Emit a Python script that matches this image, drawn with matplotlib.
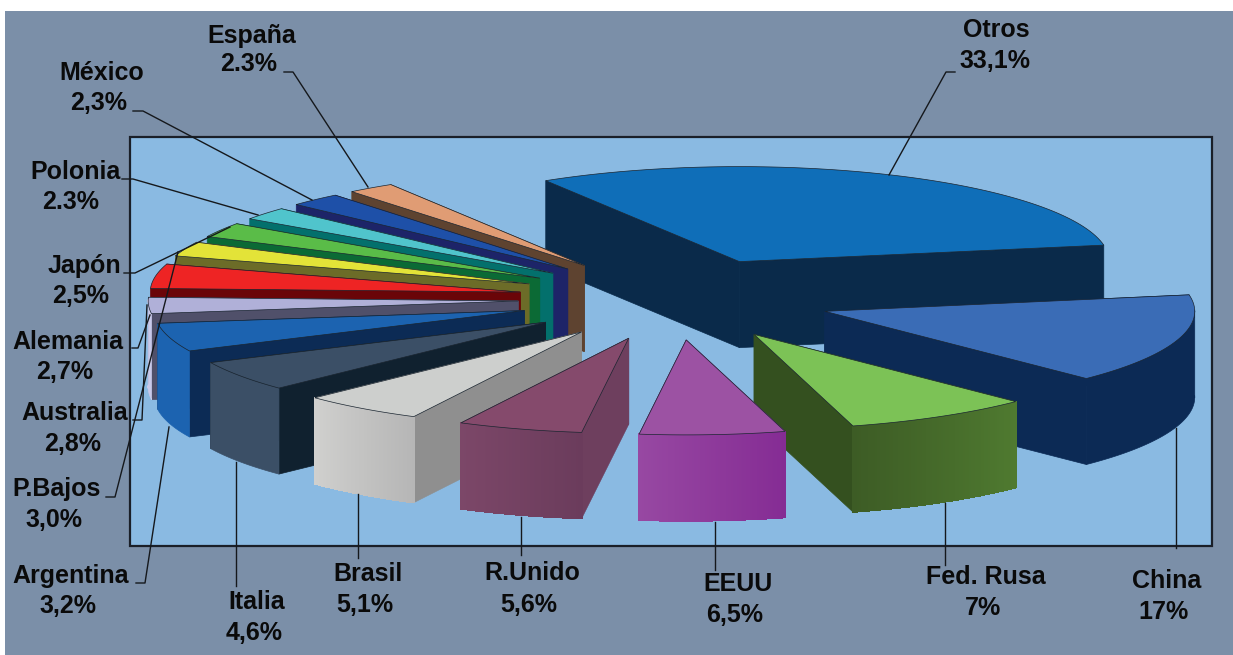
import numpy as np
import matplotlib
matplotlib.use("Agg")
import matplotlib.pyplot as plt
from matplotlib.colors import to_rgb
from matplotlib.patches import Polygon, Rectangle

plt.rcParams["font.family"] = ["Liberation Sans", "DejaVu Sans"]

# data, clockwise from China
names = ["China", "Fed. Rusa", "EEUU", "R.Unido", "Brasil", "Italia", "Argentina", "P.Bajos",
         "Australia", "Alemania", "Japón", "Polonia", "México", "España", "Otros"]
values = [17, 7, 6.5, 5.6, 5.1, 4.6, 3.2, 3.0, 2.8, 2.7, 2.5, 2.3, 2.3, 2.3, 33.1]
pct_labels = ["17%", "7%", "6,5%", "5,6%", "5,1%", "4,6%", "3,2%", "3,0%",
              "2,8%", "2,7%", "2,5%", "2.3%", "2,3%", "2.3%", "33,1%"]

# styles: top, radial side, wall left, wall right
slice_colors = [
    ("#3a6cb6", "#0c2a55", "#0c2a55", "#0c2a55"),
    ("#7cc256", "#34501f", "#3d5c25", "#4f7a30"),
    ("#9c52a3", "#7a3a85", "#9748a2", "#852c94"),
    ("#854a6c", "#6e3f5e", "#7c4768", "#6b3c5c"),
    ("#cdcfcd", "#8f8f8f", "#d0d0ce", "#b6b6b6"),
    ("#3b4f66", "#10212f", "#3b4f66", "#3b4f66"),
    ("#1c63b0", "#0c2b55", "#1c63b0", "#1c63b0"),
    ("#b0b0d8", "#50506a", "#c9c9ea", "#c9c9ea"),
    ("#ee2424", "#6a0508", "#8a1018", "#8a1018"),
    ("#e3e338", "#6c6c28", "#85852c", "#85852c"),
    ("#5abc48", "#0b6a35", "#0b6a35", "#0b6a35"),
    ("#50c4cc", "#03706c", "#03706c", "#03706c"),
    ("#1e50a8", "#1d2468", "#1d2468", "#1d2468"),
    ("#e09c74", "#5e4330", "#5e4330", "#5e4330"),
    ("#0f6eb8", "#0a2a4a", "#0a2a4a", "#0a2a4a"),
]

# label centres and leader paths, in picture pixels
name_pos = [(1167, 581), (986, 577), (738, 584), (532, 573), (368, 574), (257, 602), (71, 576), (57, 489),
            (75, 413), (68, 342), (84, 266), (75, 172), (102, 73), (252, 36), (996, 30)]
pct_pos = [(1164, 612), (983, 608), (735, 615), (529, 605), (365, 605), (254, 633), (68, 606), (54, 520),
           (73, 444), (65, 372), (81, 296), (71, 202), (99, 103), (249, 64), (995, 61)]
leaders = [
    [(1176, 548), (1176, 428)],
    [(945, 565), (945, 503)],
    [(715, 570), (715, 522)],
    [(521, 555), (521, 517)],
    [(358, 558), (358, 494)],
    [(236, 586), (236, 462)],
    [(136, 583), (145, 583), (169, 427)],
    [(106, 497), (115, 497), (178, 252)],
    [(133, 420), (142, 420), (147, 305)],
    [(132, 348), (138, 348), (150, 315)],
    [(124, 273), (135, 273), (230, 227)],
    [(122, 179), (133, 179), (258, 215)],
    [(133, 111), (143, 111), (312, 200)],
    [(284, 72), (293, 72), (368, 187)],
    [(955, 72), (946, 72), (889, 175)],
]

# pie projection
center = (675, 299)
rx, ry = 370, 95
explode_x, explode_y = 157, 41
depth = 86
start_angle = -10
# the 3D view squeezes some angles, degrees of shift against the running total
warp_at = [0, 61.2, 86.4, 130, 148.4, 165, 176.6, 187.4, 197.5, 207.2, 216.2, 224.5, 232.5, 240.8, 360]
warp_by = [0, -6.2, -1.9, -3, -2.2, 0, 6, 5, 10, 9, 9, 8.5, 8.5, 7.6, 0]


def view_angle(t):
    return t + start_angle + np.interp(t, warp_at, warp_by)


fig = plt.figure(figsize=(12.33, 6.55), dpi=100, facecolor="white")
ax = fig.add_axes([0, 0, 1, 1])
ax.set_xlim(0, 1233)
ax.set_ylim(655, 0)
ax.axis("off")

ax.add_patch(Rectangle((5, 11), 1228, 644, fc="#7b8fa8", ec="none", zorder=0))
ax.add_patch(Rectangle((130, 137), 1082, 409, fc="#8abae2", ec="#1a1f28", lw=1.6, zorder=1))

edges = np.concatenate([[0], np.cumsum(values)]) / np.sum(values) * 360
starts = view_angle(edges[:-1])
ends = view_angle(edges[1:])
mids = (starts + ends) / 2

for i in np.argsort(np.sin(np.radians(mids))):
    top, side, wall_a, wall_b = slice_colors[i]
    m = np.radians(mids[i])
    ax0 = center[0] + explode_x * np.cos(m)
    ay0 = center[1] + explode_y * np.sin(m)
    th = np.radians(np.linspace(starts[i], ends[i], 80))
    ox = ax0 + rx * np.cos(th)
    oy = ay0 + ry * np.sin(th)

    # radial faces
    for k in (0, -1):
        ax.add_patch(Polygon([(ax0, ay0), (ox[k], oy[k]), (ox[k], oy[k] + depth), (ax0, ay0 + depth)],
                             fc=side, ec=side, lw=0.5, zorder=2))

    # outer wall, front half only, left to right for the shading
    keep = np.where(np.sin(th) > -0.02)[0]
    if len(keep) > 1:
        idx = keep[np.argsort(ox[keep])]
        if wall_a == wall_b:
            ax.add_patch(Polygon(np.column_stack([np.r_[ox[idx], ox[idx][::-1]],
                                                  np.r_[oy[idx], oy[idx][::-1] + depth]]),
                                 fc=wall_a, ec=wall_a, lw=0.5, zorder=2))
        else:
            ca, cb = np.array(to_rgb(wall_a)), np.array(to_rgb(wall_b))
            for n in range(len(idx) - 1):
                a, b = idx[n], idx[n + 1]
                col = ca + (cb - ca) * n / (len(idx) - 1)
                ax.add_patch(Polygon([(ox[a], oy[a]), (ox[b], oy[b]), (ox[b], oy[b] + depth), (ox[a], oy[a] + depth)],
                                     fc=col, ec=col, lw=0.5, antialiased=False, zorder=2))

    # top face
    ax.add_patch(Polygon(np.column_stack([np.r_[ax0, ox], np.r_[ay0, oy]]),
                         fc=top, ec="#1a2530", lw=0.5, zorder=2))

for path in leaders:
    xs, ys = zip(*path)
    ax.plot(xs, ys, color="#15181c", lw=1.0, zorder=3)

for name, pct, np_, pp in zip(names, pct_labels, name_pos, pct_pos):
    ax.text(np_[0], np_[1], name, ha="center", va="center", fontsize=18, fontweight="bold",
            color="#0a0a0a", zorder=4)
    ax.text(pp[0], pp[1], pct, ha="center", va="center", fontsize=18, fontweight="bold",
            color="#0a0a0a", zorder=4)

plt.savefig("out.png", dpi=100, facecolor="white")
plt.close()
